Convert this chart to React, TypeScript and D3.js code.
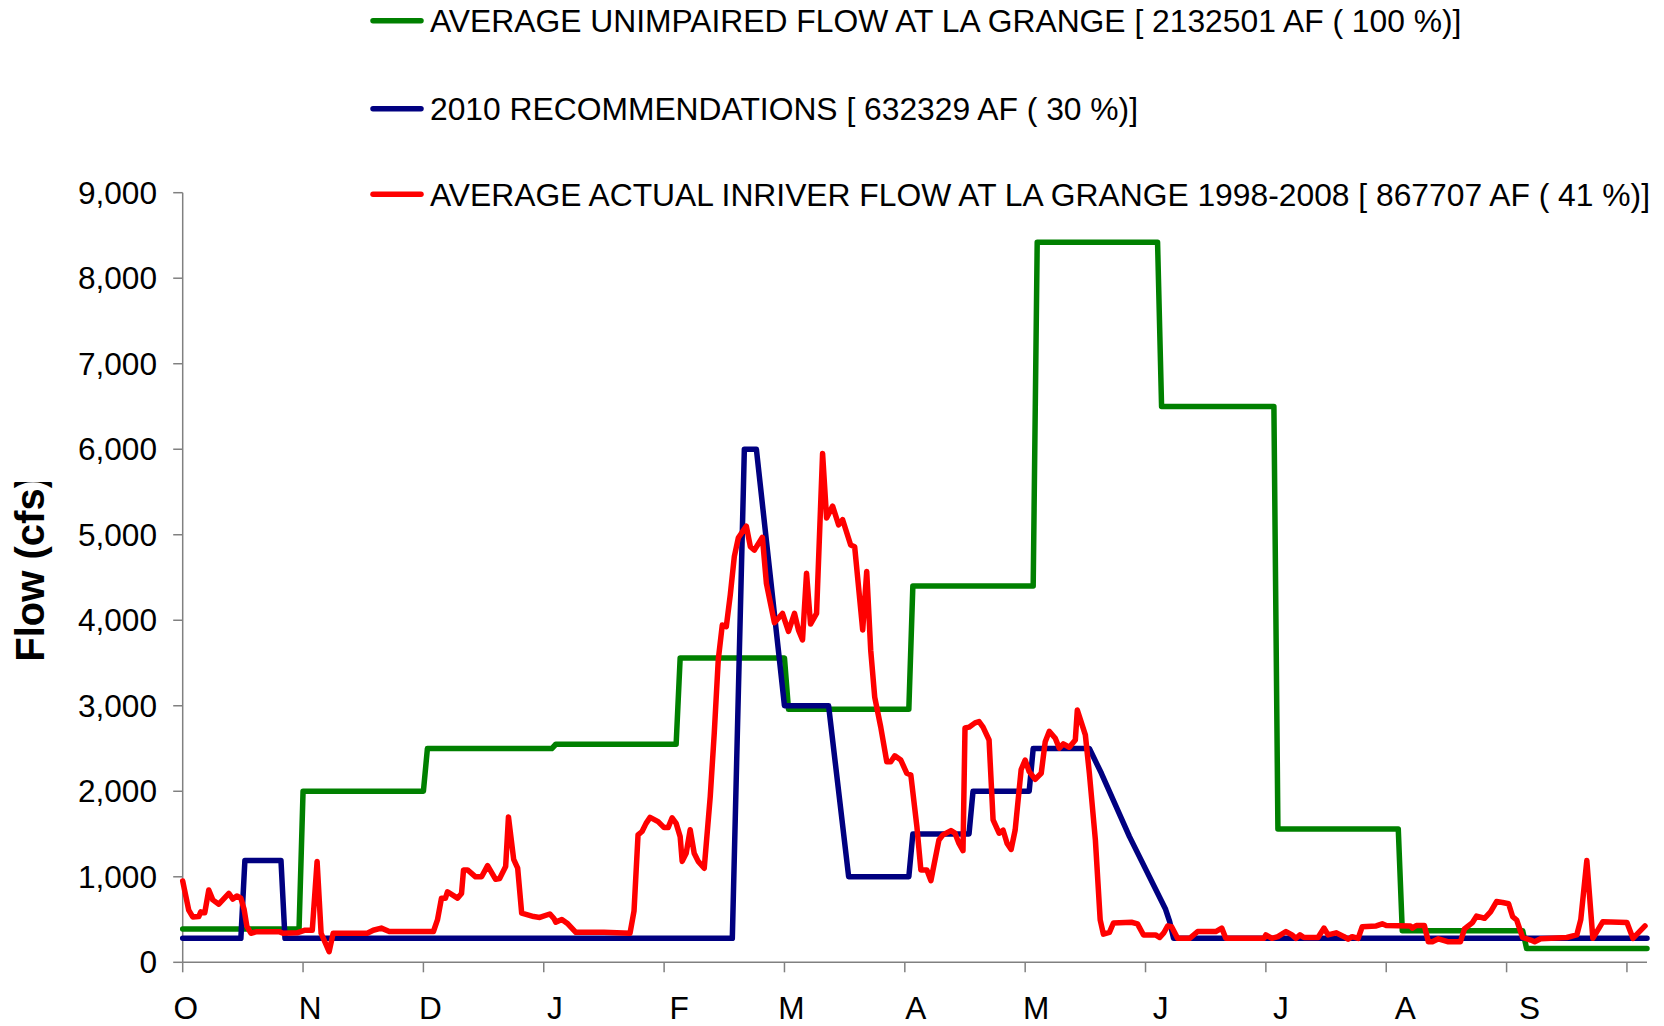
import * as d3 from 'd3'

const W = 1664
const H = 1026

// [day of water year (0 = 1 Oct), flow in cfs] at each corner of the line
const unimpaired: [number, number][] = [
  [0, 390], [29, 390], [30, 2000], [60, 2000], [61, 2500], [92, 2500], [93, 2550],
  [123, 2550], [124, 3560], [150, 3560], [151, 2960], [181, 2960], [182, 4400],
  [212, 4400], [213, 8420], [243, 8420], [244, 6500], [272, 6500], [273, 1560],
  [303, 1560], [304, 370], [334, 370], [335, 160], [365, 160],
]

const recommended: [number, number][] = [
  [0, 280], [14.5, 280], [15.5, 1190], [24.5, 1190], [25.5, 280], [137, 280],
  [140, 6000], [143, 6000], [150, 3000], [161, 3000], [166, 1000], [181, 1000],
  [182, 1500], [196, 1500], [197, 2000], [211, 2000], [212, 2500], [226, 2500],
  [229, 2210], [236, 1470], [245, 620], [246, 480], [247, 280], [365, 280],
]

const actual: [number, number][] = [
  [0, 950], [1.5, 610], [2.5, 530], [4, 535], [4.5, 590], [5.5, 580], [6.5, 845],
  [7.5, 730], [9, 680], [11.5, 805], [12.5, 740], [13.5, 775], [14.5, 750],
  [15.3, 620], [16, 420], [17, 340], [18.5, 358], [24, 358], [25, 340],
  [28.5, 345], [30.5, 375], [32.3, 375], [33.5, 1180], [34.5, 340], [36.5, 125],
  [37.5, 340], [46, 340], [47.5, 375], [49.5, 400], [51.5, 360], [62.5, 360],
  [63.5, 495], [64.5, 750], [65.5, 750], [66, 825], [68.5, 750], [69.5, 805],
  [70, 1080], [71, 1080], [73, 1000], [74.5, 1000], [76, 1130], [78, 970],
  [79, 980], [80.5, 1120], [81.2, 1700], [82.5, 1205], [83.5, 1100], [84.5, 575],
  [86, 555], [87.5, 535], [89, 525], [91.5, 565], [92.5, 515], [93, 470],
  [94.5, 500], [96, 450], [98, 350], [105, 350], [111.5, 340], [112.5, 600],
  [113.5, 1490], [114.5, 1530], [115.5, 1625], [116.5, 1695], [118.5, 1645],
  [120, 1575], [121, 1575], [122, 1690], [123, 1625], [124, 1470], [124.5, 1180],
  [125.5, 1275], [126.5, 1550], [127.5, 1275], [128.5, 1180], [130, 1100],
  [131.5, 1940], [132.5, 2680], [133.5, 3540], [134.5, 3945], [135.5, 3925],
  [136.5, 4300], [137.5, 4745], [138.5, 4965], [140.5, 5100], [141.5, 4860],
  [142.5, 4820], [144.5, 4970], [145.5, 4430], [146.5, 4200], [147.5, 3970],
  [149.5, 4080], [151, 3870], [152.5, 4080], [153.5, 3885], [154.5, 3770],
  [155.5, 4550], [156.5, 3955], [158, 4080], [159.5, 5950], [160.5, 5195],
  [162, 5335], [163.5, 5115], [164.5, 5175], [166.5, 4880], [167.5, 4860],
  [169.5, 3885], [170.5, 4570], [171.5, 3650], [172.5, 3100], [174, 2750],
  [175.5, 2345], [176.5, 2345], [177.5, 2415], [179, 2365], [180.5, 2210],
  [181.5, 2190], [183, 1590], [184, 1080], [185.5, 1080], [186.5, 955],
  [188.5, 1430], [189.5, 1490], [191.5, 1540], [192.5, 1510], [193.5, 1390],
  [194.5, 1305], [195, 2740], [196, 2750], [197.5, 2800], [198.5, 2815],
  [199.5, 2750], [201, 2600], [202, 1665], [203.5, 1510], [204.5, 1545],
  [205.5, 1390], [206.5, 1320], [207.5, 1545], [209, 2255], [210, 2365],
  [211, 2230], [212.5, 2140], [214, 2210], [215, 2580], [216, 2700], [217.5, 2620],
  [218.5, 2505], [219.5, 2555], [221, 2515], [222.5, 2600], [223, 2950],
  [225, 2660], [226, 2210], [227.5, 1430], [228.7, 495], [229.5, 330], [231, 350],
  [232, 460], [236.5, 468], [238, 450], [239.5, 320], [242.5, 320], [243.5, 290],
  [244.5, 340], [245.5, 425], [246.5, 415], [248, 280], [251, 280], [253, 360],
  [257.5, 360], [259, 400], [260, 280], [269.5, 280], [270, 320], [271.5, 280],
  [273, 300], [275, 360], [276.5, 320], [277.5, 280], [278.5, 320], [279.5, 290],
  [283, 290], [284.5, 400], [285.5, 320], [287.5, 345], [289.5, 300], [290.5, 270],
  [291.5, 300], [293, 280], [294, 415], [297.5, 425], [299, 450], [300, 430],
  [306, 425], [306.5, 400], [307.5, 430], [309.5, 430], [310.5, 240], [311.5, 240],
  [313, 275], [315.5, 240], [318.5, 240], [319.5, 390], [321.5, 465], [322.5, 540],
  [324.5, 515], [326, 590], [327.5, 710], [329, 700], [330.5, 685], [331.5, 535],
  [332.5, 495], [334, 290], [336, 260], [337, 240], [338.5, 275], [345, 290],
  [347.5, 320], [348.5, 500], [350, 1190], [351.5, 280], [354, 475], [360, 465],
  [361.5, 280], [364.5, 425],
]

const monthLabels = ['O', 'N', 'D', 'J', 'F', 'M', 'A', 'M', 'J', 'J', 'A', 'S']
const monthStarts = [0, 31, 61, 92, 123, 151, 182, 212, 243, 273, 304, 335]
const xTicks = [0, 30, 60, 90, 120, 150, 180, 210, 240, 270, 300, 330, 360]
const yTicks = [0, 1000, 2000, 3000, 4000, 5000, 6000, 7000, 8000, 9000]

const seriesNames = [
  'AVERAGE UNIMPAIRED FLOW AT LA GRANGE [ 2132501 AF ( 100 %)]',
  '2010 RECOMMENDATIONS [ 632329 AF ( 30 %)]',
  'AVERAGE ACTUAL INRIVER FLOW AT LA GRANGE 1998-2008 [ 867707 AF ( 41 %)]',
]
const seriesColors = ['#008000', '#000080', '#ff0000']

const FONT = '"Liberation Sans", Arial, sans-serif'

export default function App() {
  const x = d3.scaleLinear().domain([0, 365]).range([182.7, 1647])
  const y = d3.scaleLinear().domain([0, 9000]).range([962.3, 192.7])

  const line = d3.line<[number, number]>()
    .x(d => x(d[0]))
    .y(d => y(d[1]))

  const series = [unimpaired, recommended, actual]
  const legendY = [20.7, 108.7, 194.3]
  const axisColor = '#808080'

  return (
    <svg
      width={W}
      height={H}
      style={{ position: 'absolute', left: 0, top: 0, background: '#fff' }}
      fontFamily={FONT}
    >
      <defs>
        <clipPath id="titleClip">
          <rect x={0} y={482} width={80} height={300} />
        </clipPath>
      </defs>

      {/* y axis */}
      <line x1={x(0)} x2={x(0)} y1={y(9000)} y2={y(0)} stroke={axisColor} strokeWidth={1.5} />
      {yTicks.map(t => (
        <g key={t}>
          <line x1={x(0) - 9.5} x2={x(0)} y1={y(t)} y2={y(t)} stroke={axisColor} strokeWidth={1.5} />
          <text x={157} y={y(t) + 11} textAnchor="end" fontSize={31.6} fill="#000">
            {d3.format(',')(t)}
          </text>
        </g>
      ))}

      {/* x axis */}
      <line x1={x(0)} x2={x(365)} y1={y(0)} y2={y(0)} stroke={axisColor} strokeWidth={1.5} />
      {xTicks.map(t => (
        <line key={t} x1={x(t)} x2={x(t)} y1={y(0)} y2={y(0) + 10} stroke={axisColor} strokeWidth={1.5} />
      ))}
      {monthLabels.map((m, i) => (
        <text key={i} x={x(monthStarts[i]) + 3} y={1018.5} textAnchor="middle" fontSize={31.6} fill="#000">
          {m}
        </text>
      ))}

      {/* axis title */}
      <g clipPath="url(#titleClip)">
        <text
          transform="translate(44.3,661.7) rotate(-90)"
          fontSize={40}
          fontWeight="bold"
          fill="#000"
        >
          Flow (cfs)
        </text>
      </g>

      {/* series */}
      {series.map((s, i) => (
        <path
          key={i}
          d={line(s) ?? ''}
          fill="none"
          stroke={seriesColors[i]}
          strokeWidth={5.5}
          strokeLinejoin="round"
          strokeLinecap="round"
        />
      ))}

      {/* legend */}
      {seriesNames.map((name, i) => (
        <g key={name}>
          <line
            x1={373}
            x2={421}
            y1={legendY[i]}
            y2={legendY[i]}
            stroke={seriesColors[i]}
            strokeWidth={5.5}
            strokeLinecap="round"
          />
          <text x={430} y={legendY[i] + 11.5} fontSize={31.8} fill="#000">
            {name}
          </text>
        </g>
      ))}
    </svg>
  )
}
